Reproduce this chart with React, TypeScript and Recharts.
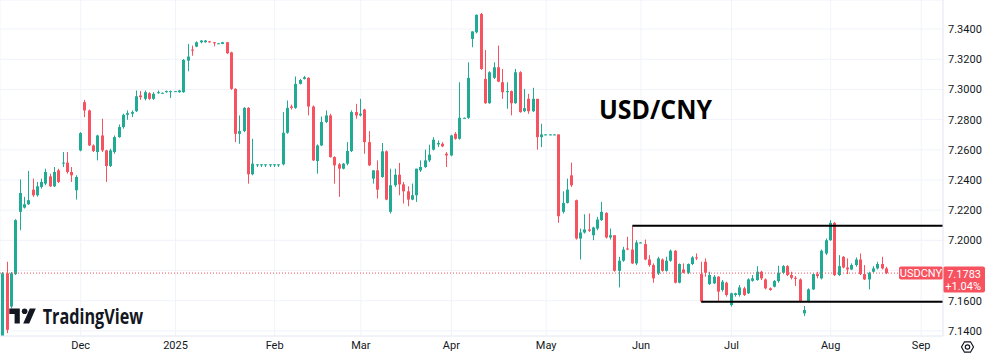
import {
  Bar,
  CartesianGrid,
  ComposedChart,
  ReferenceLine,
  XAxis,
  YAxis,
} from 'recharts'

// daily USD/CNY candles, 6 Nov 2024 .. 20 Aug 2025 (weekdays only)
const opens = [
  7.1350, 7.1781, 7.1561, 7.1776, 7.2189, 7.2217, 7.2239, 7.2336, 7.2299, 7.2354,
  7.2376, 7.2424, 7.2358, 7.2464, 7.2515, 7.2515, 7.2453, 7.2332, 7.2596, 7.2916,
  7.2861, 7.2629, 7.2585, 7.2695, 7.2596, 7.2493, 7.2585, 7.2684, 7.2751, 7.2832,
  7.2839, 7.2856, 7.2960, 7.2938, 7.2975, 7.2938, 7.2982, 7.2978, 7.2982, 7.2989,
  7.2989, 7.2982, 7.2982, 7.3191, 7.3264, 7.3284, 7.3313, 7.3313, 7.3319, 7.3313,
  7.3306, 7.3302, 7.3313, 7.3246, 7.3004, 7.2706, 7.2724, 7.2878, 7.2438, 7.2504,
  7.2504, 7.2504, 7.2504, 7.2504, 7.2504, 7.2504, 7.2713, 7.2887, 7.2878, 7.3037,
  7.3070, 7.3077, 7.2887, 7.2526, 7.2629, 7.2784, 7.2828, 7.2552, 7.2504, 7.2475,
  7.2508, 7.2592, 7.2850, 7.2828, 7.2867, 7.2651, 7.2409, 7.2464, 7.2420, 7.2590,
  7.2189, 7.2365, 7.2435, 7.2371, 7.2325, 7.2270, 7.2299, 7.2464, 7.2486, 7.2530,
  7.2601, 7.2636, 7.2640, 7.2574, 7.2563, 7.2706, 7.2673, 7.2812, 7.2812, 7.3335,
  7.3379, 7.3500, 7.3070, 7.2909, 7.3077, 7.3147, 7.3048, 7.2982, 7.2989, 7.2909,
  7.3114, 7.2856, 7.2938, 7.2856, 7.2938, 7.2684, 7.2702, 7.2702, 7.2702, 7.2702,
  7.2189, 7.2248, 7.2431, 7.2266, 7.2012, 7.2052, 7.2072, 7.2034, 7.2078, 7.2134,
  7.2182, 7.2019, 7.2034, 7.1798, 7.1865, 7.1946, 7.1939, 7.1847, 7.1986, 7.1975,
  7.1873, 7.1836, 7.1781, 7.1873, 7.1798, 7.1865, 7.1931, 7.1719, 7.1807, 7.1785,
  7.1843, 7.1887, 7.1776, 7.1858, 7.1710, 7.1715, 7.1759, 7.1671, 7.1719, 7.1571,
  7.1638, 7.1638, 7.1682, 7.1649, 7.1732, 7.1737, 7.1792, 7.1741, 7.1682, 7.1693,
  7.1730, 7.1785, 7.1829, 7.1770, 7.1752, 7.1741, 7.1516, 7.1594, 7.1675, 7.1776,
  7.1748, 7.1913, 7.2001, 7.2116, 7.1770, 7.1891, 7.1820, 7.1807, 7.1836, 7.1873,
  7.1776, 7.1741, 7.1792, 7.1814, 7.1843, 7.1814,
]
const highs = [
  7.1790, 7.1858, 7.1790, 7.2140, 7.2404, 7.2288, 7.2460, 7.2409, 7.2387, 7.2409,
  7.2475, 7.2442, 7.2486, 7.2475, 7.2585, 7.2585, 7.2486, 7.2431, 7.2717, 7.2931,
  7.2867, 7.2636, 7.2700, 7.2806, 7.2600, 7.2607, 7.2695, 7.2768, 7.2839, 7.2861,
  7.2861, 7.2993, 7.2990, 7.2993, 7.2982, 7.2982, 7.2993, 7.2980, 7.2993, 7.2993,
  7.2990, 7.2997, 7.3202, 7.3302, 7.3291, 7.3319, 7.3328, 7.3328, 7.3322, 7.3315,
  7.3308, 7.3315, 7.3315, 7.3250, 7.3008, 7.2828, 7.2883, 7.2883, 7.2673, 7.2504,
  7.2504, 7.2504, 7.2504, 7.2504, 7.2504, 7.2850, 7.2927, 7.2900, 7.3086, 7.3070,
  7.3090, 7.3081, 7.2894, 7.2636, 7.2821, 7.2861, 7.2839, 7.2557, 7.2513, 7.2513,
  7.2651, 7.2861, 7.2905, 7.2938, 7.2872, 7.2724, 7.2464, 7.2530, 7.2645, 7.2596,
  7.2475, 7.2475, 7.2513, 7.2387, 7.2358, 7.2376, 7.2475, 7.2530, 7.2601, 7.2634,
  7.2684, 7.2662, 7.2651, 7.2585, 7.2700, 7.2717, 7.3048, 7.2814, 7.3180, 7.3385,
  7.3497, 7.3507, 7.3262, 7.3121, 7.3180, 7.3291, 7.3136, 7.3048, 7.2993, 7.3136,
  7.3121, 7.3004, 7.2971, 7.3011, 7.2938, 7.2773, 7.2704, 7.2704, 7.2704, 7.2702,
  7.2325, 7.2409, 7.2515, 7.2270, 7.2078, 7.2173, 7.2178, 7.2090, 7.2156, 7.2255,
  7.2186, 7.2078, 7.2034, 7.1891, 7.1957, 7.2023, 7.2094, 7.2001, 7.1988, 7.2005,
  7.1902, 7.1847, 7.1891, 7.1880, 7.1891, 7.1939, 7.1935, 7.1847, 7.1847, 7.1847,
  7.1895, 7.1913, 7.1858, 7.1880, 7.1792, 7.1770, 7.1763, 7.1737, 7.1726, 7.1653,
  7.1653, 7.1704, 7.1693, 7.1748, 7.1770, 7.1829, 7.1798, 7.1748, 7.1688, 7.1737,
  7.1832, 7.1836, 7.1836, 7.1792, 7.1763, 7.1748, 7.1565, 7.1682, 7.1781, 7.1792,
  7.1939, 7.2012, 7.2134, 7.2122, 7.1902, 7.1895, 7.1880, 7.1847, 7.1887, 7.1913,
  7.1836, 7.1792, 7.1829, 7.1858, 7.1891, 7.1825,
]
const lows = [
  7.1340, 7.1385, 7.1550, 7.1770, 7.2067, 7.2211, 7.2235, 7.2288, 7.2290, 7.2343,
  7.2365, 7.2354, 7.2354, 7.2380, 7.2486, 7.2442, 7.2387, 7.2270, 7.2590, 7.2817,
  7.2625, 7.2585, 7.2530, 7.2585, 7.2387, 7.2486, 7.2574, 7.2680, 7.2740, 7.2799,
  7.2817, 7.2850, 7.2931, 7.2927, 7.2931, 7.2931, 7.2971, 7.2975, 7.2978, 7.2944,
  7.2986, 7.2978, 7.2978, 7.3121, 7.3224, 7.3280, 7.3306, 7.3310, 7.3310, 7.3286,
  7.3303, 7.3300, 7.3235, 7.2997, 7.2651, 7.2640, 7.2717, 7.2376, 7.2431, 7.2486,
  7.2486, 7.2486, 7.2486, 7.2486, 7.2486, 7.2497, 7.2706, 7.2867, 7.2872, 7.3033,
  7.3066, 7.2828, 7.2526, 7.2442, 7.2625, 7.2777, 7.2548, 7.2376, 7.2288, 7.2470,
  7.2497, 7.2585, 7.2806, 7.2821, 7.2574, 7.2493, 7.2376, 7.2277, 7.2415, 7.2266,
  7.2178, 7.2354, 7.2299, 7.2244, 7.2226, 7.2266, 7.2255, 7.2453, 7.2480, 7.2519,
  7.2596, 7.2618, 7.2618, 7.2486, 7.2557, 7.2667, 7.2667, 7.2810, 7.2806, 7.3280,
  7.3372, 7.3130, 7.2905, 7.2905, 7.3070, 7.3048, 7.2938, 7.2872, 7.2828, 7.2905,
  7.2846, 7.2850, 7.2839, 7.2850, 7.2601, 7.2618, 7.2700, 7.2700, 7.2700, 7.2116,
  7.2178, 7.2244, 7.2354, 7.2005, 7.1873, 7.2045, 7.2056, 7.2001, 7.2067, 7.2129,
  7.2012, 7.2005, 7.1792, 7.1688, 7.1858, 7.1935, 7.1843, 7.1836, 7.1984, 7.1869,
  7.1825, 7.1719, 7.1770, 7.1792, 7.1792, 7.1858, 7.1715, 7.1715, 7.1781, 7.1776,
  7.1836, 7.1869, 7.1587, 7.1759, 7.1704, 7.1710, 7.1594, 7.1660, 7.1627, 7.1561,
  7.1627, 7.1627, 7.1631, 7.1644, 7.1726, 7.1732, 7.1737, 7.1675, 7.1666, 7.1688,
  7.1719, 7.1776, 7.1763, 7.1741, 7.1697, 7.1587, 7.1499, 7.1587, 7.1671, 7.1748,
  7.1741, 7.1902, 7.1997, 7.1763, 7.1763, 7.1814, 7.1776, 7.1803, 7.1825, 7.1770,
  7.1737, 7.1675, 7.1785, 7.1807, 7.1807, 7.1776,
]
const closes = [
  7.1781, 7.1407, 7.1781, 7.2134, 7.2314, 7.2239, 7.2266, 7.2299, 7.2358, 7.2387,
  7.2453, 7.2358, 7.2453, 7.2387, 7.2515, 7.2453, 7.2431, 7.2420, 7.2711, 7.2861,
  7.2629, 7.2592, 7.2695, 7.2596, 7.2493, 7.2596, 7.2684, 7.2751, 7.2832, 7.2843,
  7.2850, 7.2955, 7.2949, 7.2982, 7.2938, 7.2971, 7.2982, 7.2978, 7.2989, 7.2989,
  7.2989, 7.2993, 7.3196, 7.3218, 7.3257, 7.3313, 7.3324, 7.3324, 7.3315, 7.3306,
  7.3306, 7.3313, 7.3240, 7.3004, 7.2706, 7.2724, 7.2878, 7.2438, 7.2508, 7.2504,
  7.2504, 7.2504, 7.2504, 7.2504, 7.2504, 7.2713, 7.2878, 7.2878, 7.3037, 7.3063,
  7.3081, 7.2887, 7.2530, 7.2629, 7.2784, 7.2828, 7.2552, 7.2497, 7.2475, 7.2508,
  7.2592, 7.2850, 7.2828, 7.2839, 7.2651, 7.2497, 7.2464, 7.2336, 7.2590, 7.2270,
  7.2365, 7.2435, 7.2371, 7.2325, 7.2270, 7.2299, 7.2475, 7.2486, 7.2530, 7.2568,
  7.2667, 7.2645, 7.2623, 7.2563, 7.2695, 7.2673, 7.2812, 7.2812, 7.3077, 7.3385,
  7.3495, 7.3136, 7.2909, 7.3114, 7.3147, 7.3052, 7.2982, 7.2989, 7.2909, 7.3114,
  7.2850, 7.2876, 7.2856, 7.2938, 7.2684, 7.2702, 7.2702, 7.2702, 7.2702, 7.2160,
  7.2248, 7.2336, 7.2365, 7.2012, 7.2052, 7.2072, 7.2063, 7.2085, 7.2138, 7.2189,
  7.2019, 7.2034, 7.1798, 7.1865, 7.1939, 7.1939, 7.1847, 7.1986, 7.1986, 7.1873,
  7.1836, 7.1748, 7.1880, 7.1798, 7.1865, 7.1931, 7.1719, 7.1843, 7.1785, 7.1843,
  7.1887, 7.1880, 7.1594, 7.1785, 7.1770, 7.1759, 7.1660, 7.1726, 7.1638, 7.1649,
  7.1649, 7.1688, 7.1638, 7.1741, 7.1748, 7.1792, 7.1748, 7.1682, 7.1671, 7.1730,
  7.1785, 7.1829, 7.1770, 7.1752, 7.1745, 7.1594, 7.1538, 7.1675, 7.1776, 7.1763,
  7.1931, 7.2001, 7.2116, 7.1770, 7.1829, 7.1820, 7.1807, 7.1836, 7.1873, 7.1776,
  7.1741, 7.1785, 7.1814, 7.1843, 7.1814, 7.1783,
]

// bar index of the first weekday of each month
const monthTicks = [18, 40, 63, 83, 104, 126, 148, 169, 192, 213]
const monthLabels = ['Dec', '2025', 'Feb', 'Mar', 'Apr', 'May', 'Jun', 'Jul', 'Aug', 'Sep']
const priceTicks = [7.14, 7.16, 7.18, 7.2, 7.22, 7.24, 7.26, 7.28, 7.3, 7.32, 7.34]

const resistanceFrom = 146
const resistancePrice = 7.2097
const supportFrom = 162
const supportPrice = 7.1593
const lastPrice = 7.1783
const lastChange = '+1.04%'
const symbol = 'USDCNY'
const title = 'USD/CNY'

const X_MIN = -0.72
const X_MAX = 218.07
const Y_MIN = 7.1366
const Y_MAX = 7.3593

const UP = '#22ab94'
const DOWN = '#f7525f'
const TEXT = '#131722'
const FONT = "Roboto, 'Noto Sans', sans-serif"

const candles = opens.map((o, i) => ({
  i,
  o,
  h: highs[i],
  l: lows[i],
  c: closes[i],
}))

function Candle(props: any) {
  const { x, y, width, height, payload } = props
  const { o, h, l, c } = payload
  const top = Math.min(y, y + height)
  const bottom = Math.max(y, y + height)
  const span = h - l
  const toPx = (v: number) =>
    span === 0 ? top : top + ((h - v) / span) * (bottom - top)
  const cx = Math.round(x + width / 2 - 0.5) + 0.5
  const color = c >= o ? UP : DOWN
  const bodyTop = toPx(Math.max(o, c))
  const bodyBottom = toPx(Math.min(o, c))
  return (
    <g>
      <line x1={cx} x2={cx} y1={top} y2={Math.max(bottom, top + 1)} stroke={color} strokeWidth={1} />
      <rect
        x={cx - 1.5}
        y={bodyTop}
        width={3}
        height={Math.max(1, bodyBottom - bodyTop)}
        fill={color}
      />
    </g>
  )
}

function PriceTag(props: any) {
  const vb = props.viewBox
  const right = vb.x + vb.width
  const y = vb.y
  return (
    <g fontFamily={FONT}>
      <rect x={right - 44} y={y - 6.5} width={44} height={13} rx={2} fill={DOWN} />
      <text x={right - 22} y={y + 4} textAnchor='middle' fill='#ffffff' fontSize={11}>
        {symbol}
      </text>
      <rect x={right} y={y - 6.5} width={42} height={26} rx={2} fill={DOWN} />
      <text x={right + 38} y={y + 5} textAnchor='end' fill='#ffffff' fontSize={11}>
        {lastPrice.toFixed(4)}
      </text>
      <text x={right + 38} y={y + 17} textAnchor='end' fill='#ffffff' fontSize={11}>
        {lastChange}
      </text>
    </g>
  )
}

export default function App() {
  return (
    <div
      style={{
        position: 'fixed',
        left: 0,
        top: 0,
        width: 989,
        height: 358,
        background: '#ffffff',
      }}
    >
      <ComposedChart
        width={989}
        height={358}
        data={candles}
        margin={{ top: 0, right: 0, bottom: 0, left: 0 }}
        style={{ fontFamily: FONT }}
      >
        <CartesianGrid stroke='#f0f3fa' />
        <XAxis
          type='number'
          dataKey='i'
          domain={[X_MIN, X_MAX]}
          allowDataOverflow
          ticks={monthTicks}
          interval={0}
          tickFormatter={(v: number) => monthLabels[monthTicks.indexOf(v)]}
          tickLine={false}
          axisLine={{ stroke: '#e9ecf2' }}
          tickSize={0}
          tickMargin={5}
          height={22}
          tick={{ fill: TEXT, fontSize: 11 }}
        />
        <YAxis
          orientation='right'
          width={46}
          domain={[Y_MIN, Y_MAX]}
          allowDataOverflow
          ticks={priceTicks}
          interval={0}
          tickFormatter={(v: number) =>
            Math.abs(v - lastPrice) < 0.006 ? '' : v.toFixed(4)
          }
          tickLine={false}
          axisLine={{ stroke: '#e9ecf2' }}
          tickSize={0}
          tickMargin={5}
          tick={{ fill: TEXT, fontSize: 11 }}
        />
        <Bar
          dataKey={(d: any) => [d.l, d.h]}
          shape={Candle}
          isAnimationActive={false}
        />
        <ReferenceLine
          segment={[
            { x: resistanceFrom, y: resistancePrice },
            { x: X_MAX, y: resistancePrice },
          ]}
          stroke='#000000'
          strokeWidth={2}
        />
        <ReferenceLine
          segment={[
            { x: supportFrom, y: supportPrice },
            { x: X_MAX, y: supportPrice },
          ]}
          stroke='#000000'
          strokeWidth={2}
        />
        <ReferenceLine
          y={lastPrice}
          stroke={DOWN}
          strokeDasharray='1 2'
          label={(p: any) => <PriceTag viewBox={p.viewBox} />}
        />
      </ComposedChart>
      <svg
        width={989}
        height={358}
        style={{ position: 'absolute', left: 0, top: 0, pointerEvents: 'none' }}
      >
        <text
          x={599}
          y={118.5}
          fontFamily="'Open Sans', sans-serif"
          fontWeight={700}
          fontSize={26}
          textLength={113}
          lengthAdjust='spacingAndGlyphs'
          fill='#000000'
        >
          {title}
        </text>
        <g fill='#131722'>
          <path d='M9.3,308.5 h10.5 v15 h-5.2 v-9.6 h-5.3 z' />
          <circle cx={24.6} cy={311.3} r={2.8} />
          <path d='M29.8,308.5 h6 l-6.6,15 h-6 z' />
          <text
            x={42.7}
            y={323.5}
            fontFamily="'Open Sans', sans-serif"
            fontWeight={700}
            fontSize={21}
            textLength={100.5}
            lengthAdjust='spacingAndGlyphs'
          >
            TradingView
          </text>
        </g>
        <g fill='none' stroke='#131722' strokeWidth={1.2}>
          <polygon points='973.5,347 970.5,352.2 964.5,352.2 961.5,347 964.5,341.8 970.5,341.8' />
          <circle cx={967.5} cy={347} r={2.2} />
        </g>
      </svg>
    </div>
  )
}
